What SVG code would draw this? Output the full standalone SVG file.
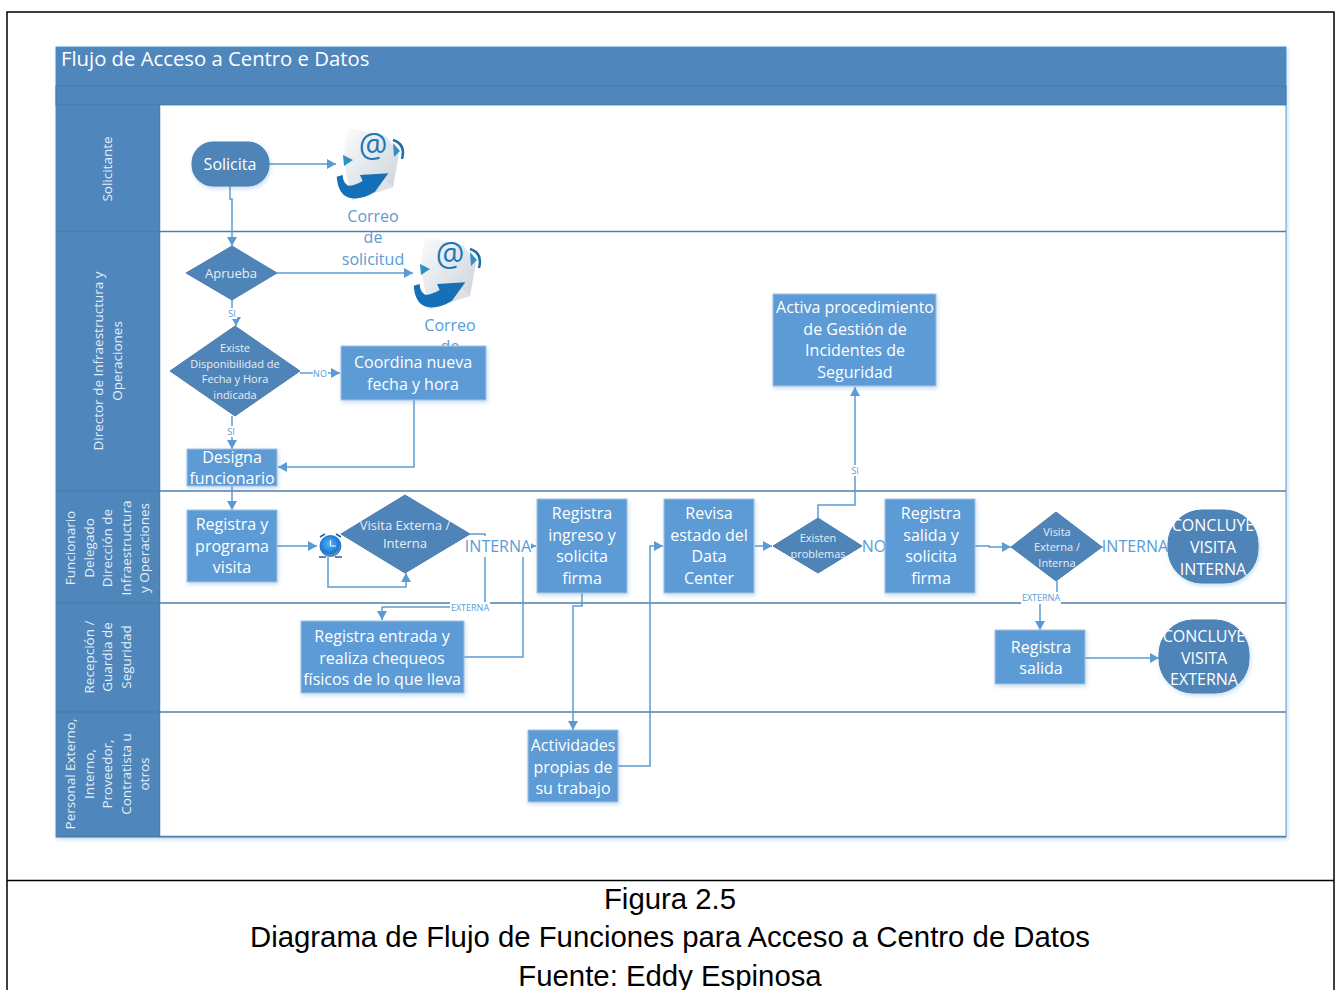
<svg xmlns="http://www.w3.org/2000/svg" width="1341" height="990" viewBox="0 0 1341 990">
<style>
text{font-family:"Open Sans","Liberation Sans",sans-serif}
.t16{font-size:16px;fill:#fff;text-anchor:middle}
.t11{font-size:11px;fill:#e6eef7;text-anchor:middle}
.t13{font-size:13px;fill:#e6eef7;text-anchor:middle}
.lane{font-size:13.500px;fill:#e6eef7;text-anchor:middle}
.blue16{font-size:16px;fill:#5b9bd5;text-anchor:middle}
.lbl{font-size:9px;fill:#5b9bd5;text-anchor:middle}
.cap{font-family:"Liberation Sans",Arial,sans-serif;font-size:29.350px;fill:#000;text-anchor:middle}
.box{fill:#5b9bd5;stroke:#a9c4de;stroke-width:1;filter:url(#sh)}
.dark{fill:#4f84b8;stroke:#4a7eb0;stroke-width:1}
.cn{fill:none;stroke:#5b9bd5;stroke-width:1.500}
.ar{fill:none;stroke:#5b9bd5;stroke-width:1.500;marker-end:url(#a)}
.sep{stroke:#4f7fa9;stroke-width:1.500}
.wh{fill:#fff}
</style>
<defs>
<filter id="sh" x="-10%" y="-10%" width="120%" height="125%"><feDropShadow dx="1" dy="2" stdDeviation="2" flood-color="#5b9bd5" flood-opacity=".35"/></filter>
<marker id="a" markerUnits="userSpaceOnUse" markerWidth="10" markerHeight="10" refX="9" refY="5" orient="auto"><path d="M0 0L9 5L0 10Z" fill="#5b9bd5"/></marker>
<linearGradient id="env" x1="0" y1="0" x2="1" y2="1"><stop offset="0" stop-color="#fbfcfd"/><stop offset="1" stop-color="#c9d1d8"/></linearGradient>
<radialGradient id="clk" cx=".45" cy=".4" r=".65"><stop offset="0" stop-color="#58b8f5"/><stop offset=".7" stop-color="#1479dd"/><stop offset="1" stop-color="#f0a030"/></radialGradient>
<g id="mail">
<path d="M12 1L50 9L63 27L57 60L16 73L7 30Z" fill="url(#env)"/>
<path d="M7 28L17 33L8 39Z" fill="#2f8fc6"/>
<path d="M57 16L64 24L58 30Z" fill="#2f8fc6"/>
<path d="M16 73L38 42L57 60Z" fill="#dde2e7"/>
<path d="M57 13Q70 17 66 32" fill="none" stroke="#1f6ea8" stroke-width="2.500"/>
<text x="37" y="30" font-size="32" fill="#1f77b4" text-anchor="middle">@</text>
<path d="M0.700 49.700Q2 68 14 71Q26 73 39 64.700L52.300 46.300L24 48L26.700 54Q18 59 12.300 58.700Q7 56 6.700 48Z" fill="#1570b8"/>
</g>
</defs>
<rect width="1341" height="990" fill="#fff"/>
<g id="frame" fill="none" stroke="#000" stroke-width="1.500">
<path d="M7 990V12H1334V990"/>
<path d="M7 880.500H1334"/>
</g>
<g id="pool">
<rect x="56" y="47" width="1230" height="790" fill="#fff" stroke="#5b9bd5" stroke-width="1" filter="url(#sh)"/>
<rect x="56" y="47" width="1230" height="39" fill="#4f86bb"/>
<rect x="56" y="86" width="1230" height="19" fill="#4f86bb" stroke="#4575a3" stroke-width=".8"/>
<text x="61" y="65.500" font-size="20.300" fill="#fff">Flujo de Acceso a Centro e Datos</text>
<rect x="56" y="105" width="104" height="732" fill="#4f86bb"/>
<path class="sep" d="M56 231.500H1286M56 491H1286M56 603H1286M56 712H1286M56 836.500H1286M159.500 105V837"/>
</g>
<g id="lanes">
<text class="lane" transform="translate(112 169) rotate(-90)">Solicitante</text>
<text class="lane" transform="translate(103 361) rotate(-90)">Director de Infraestructura y</text>
<text class="lane" transform="translate(122 361) rotate(-90)">Operaciones</text>
<text class="lane" transform="translate(75 548) rotate(-90)">Funcionario</text>
<text class="lane" transform="translate(94 548) rotate(-90)">Delegado</text>
<text class="lane" transform="translate(112 548) rotate(-90)">Dirección de</text>
<text class="lane" transform="translate(131 548) rotate(-90)">Infraestructura</text>
<text class="lane" transform="translate(149 548) rotate(-90)">y Operaciones</text>
<text class="lane" transform="translate(94 657) rotate(-90)">Recepción /</text>
<text class="lane" transform="translate(112 657) rotate(-90)">Guardia de</text>
<text class="lane" transform="translate(131 657) rotate(-90)">Seguridad</text>
<text class="lane" transform="translate(75 774) rotate(-90)">Personal Externo,</text>
<text class="lane" transform="translate(94 774) rotate(-90)">Interno,</text>
<text class="lane" transform="translate(112 774) rotate(-90)">Proveedor,</text>
<text class="lane" transform="translate(131 774) rotate(-90)">Contratista u</text>
<text class="lane" transform="translate(149 774) rotate(-90)">otros</text>
</g>
<g id="connectors">
<path class="ar" d="M269 164H336"/>
<path class="ar" d="M230 186V199H232V246"/>
<path class="ar" d="M277 273H413"/>
<path class="ar" d="M232 300V316H236V326"/>
<path class="ar" d="M300 373H340"/>
<path class="ar" d="M232 416V449"/>
<path class="ar" d="M414 400V467H278"/>
<path class="ar" d="M232 486V510"/>
<path class="ar" d="M277 546H317"/>
<path class="ar" d="M328 557V587H406V573"/>
<path class="cn" d="M470 534H485V607H382"/>
<path class="ar" d="M382 607V620"/>
<path class="ar" d="M464 657H523V546H536"/>
<path class="ar" d="M582 592V606H573V730"/>
<path class="ar" d="M618 766H650V546H663"/>
<path class="ar" d="M755 546H772"/>
<path class="ar" d="M818 518V505H855V387"/>
<path class="cn" d="M863 546H885"/>
<path class="ar" d="M975 546H989V547H1011"/>
<path class="cn" d="M1102 547H1168"/>
<path class="ar" d="M1057 581V603H1040V630"/>
<path class="ar" d="M1085 658H1159"/>
</g>
<g id="edge-labels">
<rect x="227" y="308" width="10" height="11" class="wh"/><text class="lbl" x="232" y="317">SI</text>
<rect x="313" y="368" width="15" height="11" class="wh"/><text class="lbl" x="320" y="377">NO</text>
<rect x="226" y="426" width="10" height="11" class="wh"/><text class="lbl" x="231" y="435">SI</text>
<rect x="465" y="536" width="66" height="21" class="wh"/><text x="498" y="552" class="blue16">INTERNA</text>
<rect x="450" y="602" width="40" height="11" class="wh"/><text class="lbl" x="470" y="611">EXTERNA</text>
<rect x="850" y="465" width="10" height="11" class="wh"/><text class="lbl" x="855" y="474">SI</text>
<rect x="863" y="536" width="23" height="21" class="wh"/><text x="874" y="552" class="blue16">NO</text>
<rect x="1103" y="536" width="65" height="21" class="wh"/><text x="1135" y="552" class="blue16">INTERNA</text>
<rect x="1021" y="592" width="40" height="12" class="wh"/><text class="lbl" x="1041" y="601">EXTERNA</text>
</g>
<g id="n-solicita"><rect x="192" y="142" width="77" height="44" rx="21" fill="#4f84b8" stroke="#4a7eb0" filter="url(#sh)"/><text class="t16" x="230" y="170">Solicita</text></g>
<g id="n-correo1"><use href="#mail" x="336" y="127"/><text class="blue16" x="373" y="222">Correo</text><text class="blue16" x="373" y="243">de</text><text class="blue16" x="373" y="265">solicitud</text></g>
<g id="n-aprueba"><path class="dark" d="M232 246L277 273L232 300L186 273Z"/><text class="t13" x="231" y="278">Aprueba</text></g>
<g id="n-correo2"><use href="#mail" x="413" y="236"/><text class="blue16" x="450" y="331">Correo</text><text class="blue16" x="450" y="352">de</text></g>
<g id="n-existe"><path class="dark" d="M235 326L300 371L235 416L170 371Z"/><text class="t11" x="235" y="352">Existe</text><text class="t11" x="235" y="368">Disponibilidad de</text><text class="t11" x="235" y="383">Fecha y Hora</text><text class="t11" x="235" y="399">indicada</text></g>
<g id="n-coordina"><rect class="box" x="341" y="346" width="145" height="54"/><text class="t16" x="413" y="368">Coordina nueva</text><text class="t16" x="413" y="390">fecha y hora</text></g>
<g id="n-designa"><rect class="box" x="187" y="449" width="90" height="37"/><text class="t16" x="232" y="463">Designa</text><text class="t16" x="232" y="484">funcionario</text></g>
<g id="n-activa"><rect class="box" x="773" y="294" width="163" height="92"/><text class="t16" x="855" y="313">Activa procedimiento</text><text class="t16" x="855" y="335">de Gestión de</text><text class="t16" x="855" y="356">Incidentes de</text><text class="t16" x="855" y="378">Seguridad</text></g>
<g id="n-registra-programa"><rect class="box" x="187" y="510" width="90" height="72"/><text class="t16" x="232" y="530">Registra y</text><text class="t16" x="232" y="552">programa</text><text class="t16" x="232" y="573">visita</text></g>
<g id="n-reloj"><path d="M320 537L325 534M336 534L341 537" stroke="#1c5fb0" stroke-width="1.500"/><path d="M319 557H326M335 557H342" stroke="#1c5fb0" stroke-width="1.500"/><circle cx="330.500" cy="546" r="10.500" fill="url(#clk)" stroke="#1c5fb0" stroke-width=".8"/><path d="M330.500 540V546H336" stroke="#fff" fill="none"/></g>
<g id="n-visita1"><path class="dark" d="M405 495L470 534L405 573L341 534Z"/><text class="t13" x="405" y="530">Visita Externa /</text><text class="t13" x="405" y="548">Interna</text></g>
<g id="n-ingreso"><rect class="box" x="537" y="499" width="90" height="94"/><text class="t16" x="582" y="519">Registra</text><text class="t16" x="582" y="541">ingreso y</text><text class="t16" x="582" y="562">solicita</text><text class="t16" x="582" y="584">firma</text></g>
<g id="n-revisa"><rect class="box" x="664" y="499" width="90" height="94"/><text class="t16" x="709" y="519">Revisa</text><text class="t16" x="709" y="541">estado del</text><text class="t16" x="709" y="562">Data</text><text class="t16" x="709" y="584">Center</text></g>
<g id="n-problemas"><path class="dark" d="M818 518L862 546L818 573L773 546Z"/><text class="t11" x="818" y="542">Existen</text><text class="t11" x="818" y="558">problemas</text></g>
<g id="n-salida"><rect class="box" x="885" y="499" width="90" height="94"/><text class="t16" x="931" y="519">Registra</text><text class="t16" x="931" y="541">salida y</text><text class="t16" x="931" y="562">solicita</text><text class="t16" x="931" y="584">firma</text></g>
<g id="n-visita2"><path class="dark" d="M1056 512L1102 547L1056 581L1011 547Z"/><text class="t11" x="1057" y="536">Visita</text><text class="t11" x="1057" y="551">Externa /</text><text class="t11" x="1057" y="567">Interna</text></g>
<g id="n-concluye-int"><rect x="1168" y="510" width="90" height="73" rx="34" fill="#4f84b8" stroke="#4a7eb0" filter="url(#sh)"/><text class="t16" x="1213" y="531">CONCLUYE</text><text class="t16" x="1213" y="553">VISITA</text><text class="t16" x="1213" y="575">INTERNA</text></g>
<g id="n-entrada"><rect class="box" x="301" y="621" width="163" height="72"/><text class="t16" x="382" y="642">Registra entrada y</text><text class="t16" x="382" y="664">realiza chequeos</text><text class="t16" x="382" y="685">físicos de lo que lleva</text></g>
<g id="n-reg-salida"><rect class="box" x="995" y="630" width="90" height="54"/><text class="t16" x="1041" y="653">Registra</text><text class="t16" x="1041" y="674">salida</text></g>
<g id="n-concluye-ext"><rect x="1159" y="620" width="90" height="73" rx="34" fill="#4f84b8" stroke="#4a7eb0" filter="url(#sh)"/><text class="t16" x="1204" y="642">CONCLUYE</text><text class="t16" x="1204" y="664">VISITA</text><text class="t16" x="1204" y="685">EXTERNA</text></g>
<g id="n-actividades"><rect class="box" x="528" y="730" width="90" height="72"/><text class="t16" x="573" y="751">Actividades</text><text class="t16" x="573" y="773">propias de</text><text class="t16" x="573" y="794">su trabajo</text></g>
<g id="caption"><text class="cap" x="670" y="909">Figura 2.5</text><text class="cap" x="670" y="947">Diagrama de Flujo de Funciones para Acceso a Centro de Datos</text><text class="cap" x="670" y="986">Fuente: Eddy Espinosa</text></g>
</svg>
